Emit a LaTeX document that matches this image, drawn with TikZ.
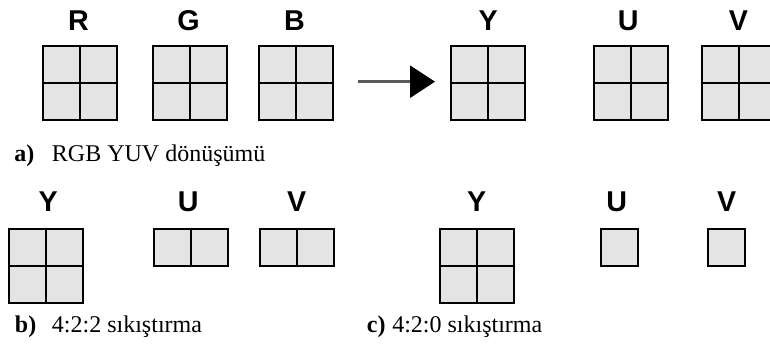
\documentclass[tikz,border=0pt]{standalone}
\usepackage{fontspec}
\setmainfont{Liberation Serif}
\newfontfamily\labelfont{Liberation Sans}
\usetikzlibrary{arrows.meta}
\definecolor{cellgray}{HTML}{E4E4E4}
\definecolor{arrowgray}{HTML}{5A5A5A}
\tikzset{
  grid4/.style={draw=black, fill=cellgray, line width=1.5pt, inner sep=0pt,
                minimum width=55.5pt, minimum height=55.5pt},
  grid2/.style={draw=black, fill=cellgray, line width=1.5pt, inner sep=0pt,
                minimum width=55.5pt, minimum height=27.75pt},
  grid1/.style={draw=black, fill=cellgray, line width=1.5pt, inner sep=0pt,
                minimum width=27.75pt, minimum height=27.75pt},
  divider/.style={draw=black, line width=1.5pt},
  chan/.style={anchor=base, inner sep=0pt, font=\labelfont\bfseries\fontsize{21.5pt}{24pt}\selectfont},
  capnum/.style={anchor=base west, inner sep=0pt, font=\bfseries\fontsize{18pt}{20pt}\selectfont},
  captext/.style={anchor=base west, inner sep=0pt, font=\fontsize{18pt}{20pt}\selectfont},
  conv/.style={draw=arrowgray, line width=2.25pt,
               -{Triangle[length=18.75pt, width=24pt, fill=black, color=black]}}
}
\begin{document}
\begin{tikzpicture}[x=0.75pt, y=-0.75pt]
  \clip (0,0) rectangle (770,352);
  \fill[white] (0,0) rectangle (770,352);

  % ---- a) RGB -> YUV ----
  \node[grid4] (R) at (79.7,82.9) {};
  \node[grid4] (G) at (189.7,82.9) {};
  \node[grid4] (B) at (295.5,82.9) {};
  \node[grid4] (Ya) at (487.5,82.9) {};
  \node[grid4] (Ua) at (631.3,82.9) {};
  \node[grid4] (Va) at (738.7,82.9) {};
  \foreach \g in {R,G,B,Ya,Ua,Va} {
    \draw[divider] (\g.north) -- (\g.south);
    \draw[divider] (\g.west) -- (\g.east);
  }
  \node[chan] (lR) at (78.5,30.7) {R};
  \node[chan] (lG) at (188.5,30.7) {G};
  \node[chan] (lB) at (294.5,30.7) {B};
  \node[chan] (lYa) at (488.3,30.7) {Y};
  \node[chan] (lUa) at (628.3,30.7) {U};
  \node[chan] (lVa) at (738.3,30.7) {V};

  \coordinate (convfrom) at (358.3,81.7);
  \coordinate (convto) at (435,81.7);
  \draw[conv] (convfrom) -- (convto);

  \node[capnum] (ca) at (14,161.7) {a)};
  \node[captext] (ta) at (51.7,161.7) {RGB YUV dönüşümü};

  % ---- b) 4:2:2 ----
  \node[grid4] (Yb) at (45.7,265.9) {};
  \node[grid2] (Ub) at (190.7,247.2) {};
  \node[grid2] (Vb) at (297.2,247.2) {};
  \draw[divider] (Yb.north) -- (Yb.south);
  \draw[divider] (Yb.west) -- (Yb.east);
  \draw[divider] (Ub.north) -- (Ub.south);
  \draw[divider] (Vb.north) -- (Vb.south);
  \node[chan] (lYb) at (48.3,211.7) {Y};
  \node[chan] (lUb) at (188.3,211.7) {U};
  \node[chan] (lVb) at (296.7,211.7) {V};
  \node[capnum] (cb) at (14.7,332) {b)};
  \node[captext] (tb) at (51.7,332) {4:2:2 sıkıştırma};

  % ---- c) 4:2:0 ----
  \node[grid4] (Yc) at (477.3,266.3) {};
  \node[grid1] (Uc) at (619.7,247.5) {};
  \node[grid1] (Vc) at (726.7,247.5) {};
  \draw[divider] (Yc.north) -- (Yc.south);
  \draw[divider] (Yc.west) -- (Yc.east);
  \node[chan] (lYc) at (476.7,211.7) {Y};
  \node[chan] (lUc) at (616.7,211.7) {U};
  \node[chan] (lVc) at (726.7,211.7) {V};
  \node[capnum] (cc) at (366.7,332) {c)};
  \node[captext] (tc) at (392,332) {4:2:0 sıkıştırma};
\end{tikzpicture}
\end{document}
